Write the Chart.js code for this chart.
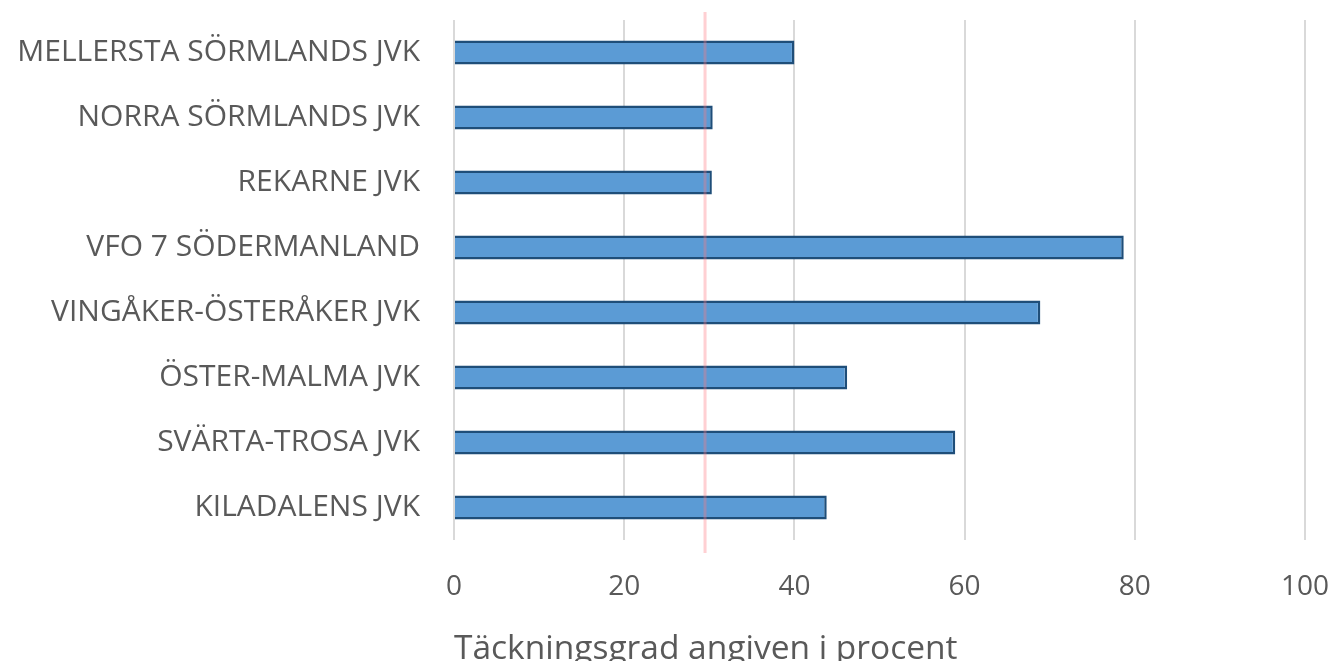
<!DOCTYPE html>
<html lang="sv">
<head>
  <meta charset="UTF-8">
  <title>Täckningsgrad</title>
  <script src="https://cdn.jsdelivr.net/npm/chart.js"></script>
  <style>
    html, body { margin: 0; padding: 0; background: #fff; overflow: hidden; }
    .wrap { width: 1335px; height: 680px; position: relative; }
  </style>
</head>
<body>
  <div class="wrap"><canvas id="chart"></canvas></div>
  <script>
    // data
    const categories = [
      'MELLERSTA SÖRMLANDS JVK',
      'NORRA SÖRMLANDS JVK',
      'REKARNE JVK',
      'VFO 7 SÖDERMANLAND',
      'VINGÅKER-ÖSTERÅKER JVK',
      'ÖSTER-MALMA JVK',
      'SVÄRTA-TROSA JVK',
      'KILADALENS JVK'
    ];
    const coverage = [40.0, 30.4, 30.3, 78.7, 68.9, 46.2, 58.9, 43.8];
    const targetLine = 29.5;
    const axisTitle = 'Täckningsgrad angiven i procent';

    // röd referenslinje
    const refLine = {
      id: 'refLine',
      afterDatasetsDraw(chart) {
        const { ctx, chartArea, scales } = chart;
        const x = scales.x.getPixelForValue(targetLine);
        ctx.save();
        ctx.strokeStyle = 'rgba(255, 120, 130, 0.35)';
        ctx.lineWidth = 3;
        ctx.beginPath();
        ctx.moveTo(x, chartArea.top - 8);
        ctx.lineTo(x, chartArea.bottom + 13);
        ctx.stroke();
        ctx.restore();
      }
    };

    new Chart(document.getElementById('chart'), {
      type: 'bar',
      data: {
        labels: categories,
        datasets: [{
          data: coverage,
          backgroundColor: '#5B9BD5',
          borderColor: '#1F4E79',
          borderWidth: 2.5,
          barPercentage: 0.37,
          categoryPercentage: 1.0
        }]
      },
      options: {
        indexAxis: 'y',
        responsive: true,
        maintainAspectRatio: false,
        animation: false,
        layout: { padding: { top: 20, right: 30, left: 0, bottom: 0 } },
        plugins: { legend: { display: false }, tooltip: { enabled: false } },
        scales: {
          x: {
            min: 0, max: 100,
            ticks: { stepSize: 20, color: '#595959', font: { family: 'Open Sans', size: 28 }, padding: 30 },
            grid: { color: '#d9d9d9', lineWidth: 2, drawTicks: false },
            border: { display: false },
            title: {
              display: true, text: axisTitle, align: 'start',
              color: '#595959', font: { family: 'Open Sans', size: 33.5 },
              padding: { top: 0, bottom: 10 }
            },
            afterFit(scale) {
              scale.height = 140;
              scale.paddingLeft = 0;
              scale.paddingRight = 0;
            }
          },
          y: {
            ticks: { color: '#595959', font: { family: 'Open Sans', size: 30 }, padding: 34 },
            grid: { display: false, drawTicks: false },
            border: { display: false },
            afterFit(scale) {
              scale.width = 454;
              scale.paddingTop = 0;
              scale.paddingBottom = 0;
            }
          }
        }
      },
      plugins: [refLine]
    });
  </script>
</body>
</html>
